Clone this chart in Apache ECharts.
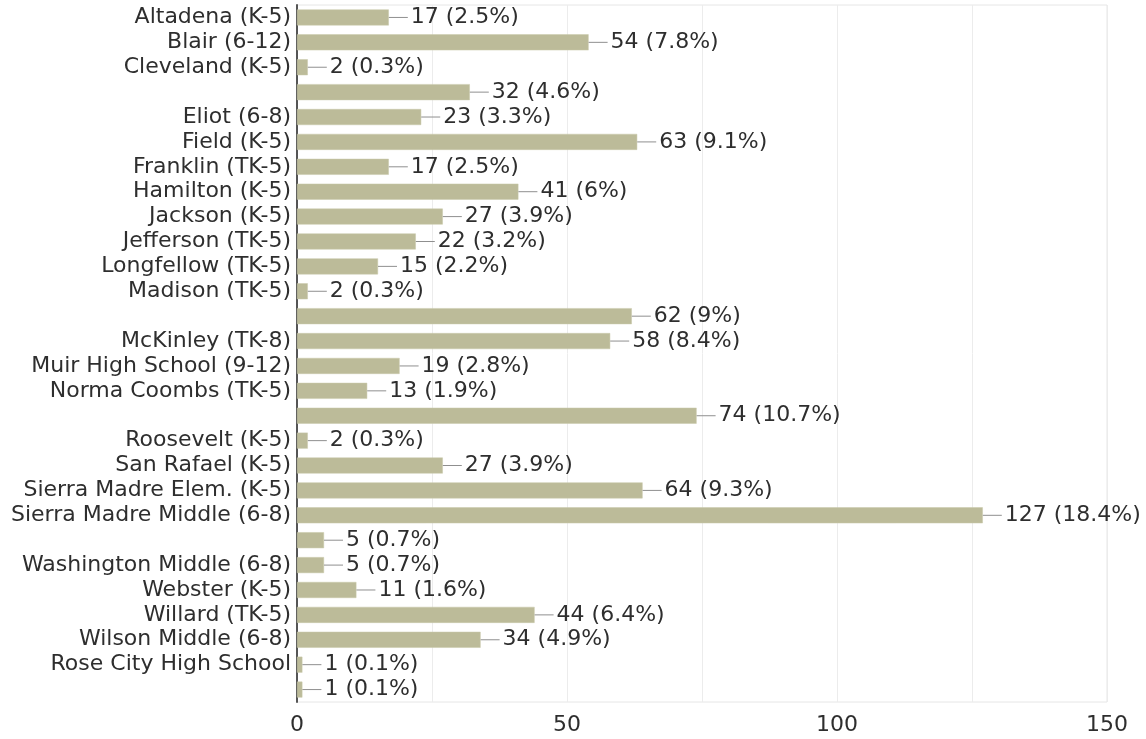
<!DOCTYPE html>
<html>
<head>
<meta charset="utf-8">
<script src="https://cdn.jsdelivr.net/npm/echarts@6/dist/echarts.min.js"></script>
<style>
html,body{margin:0;padding:0;background:#fff;}
#chart{width:1146px;height:739px;}
</style>
</head>
<body>
<div id="chart"></div>
<script>
const categories = [
  'Altadena (K-5)', 'Blair (6-12)', 'Cleveland (K-5)', '', 'Eliot (6-8)',
  'Field (K-5)', 'Franklin (TK-5)', 'Hamilton (K-5)', 'Jackson (K-5)', 'Jefferson (TK-5)',
  'Longfellow (TK-5)', 'Madison (TK-5)', '', 'McKinley (TK-8)', 'Muir High School (9-12)',
  'Norma Coombs (TK-5)', '', 'Roosevelt (K-5)', 'San Rafael (K-5)', 'Sierra Madre Elem. (K-5)',
  'Sierra Madre Middle (6-8)', '', 'Washington Middle (6-8)', 'Webster (K-5)', 'Willard (TK-5)',
  'Wilson Middle (6-8)', 'Rose City High School', ''
];
const counts = [17, 54, 2, 32, 23, 63, 17, 41, 27, 22, 15, 2, 62, 58, 19, 13, 74, 2, 27, 64, 127, 5, 5, 11, 44, 34, 1, 1];
const percents = ['2.5', '7.8', '0.3', '4.6', '3.3', '9.1', '2.5', '6', '3.9', '3.2', '2.2', '0.3', '9', '8.4', '2.8', '1.9', '10.7', '0.3', '3.9', '9.3', '18.4', '0.7', '0.7', '1.6', '6.4', '4.9', '0.1', '0.1'];
const xTicks = [0, 50, 100, 150];

const FONT = 'DejaVu Sans';
const chart = echarts.init(document.getElementById('chart'));
chart.setOption({
  animation: false,
  textStyle: { fontFamily: FONT },
  grid: { left: 297, right: 39, top: 5, bottom: 37, show: true, borderColor: '#e6e6e6', borderWidth: 1 },
  xAxis: {
    type: 'value', min: 0, max: 150, interval: 25,
    axisLine: { show: false }, axisTick: { show: false },
    splitLine: { lineStyle: { color: '#ececec', width: 1 } },
    axisLabel: {
      fontFamily: FONT, fontSize: 22, color: '#2e2e2e', margin: 12,
      formatter: v => xTicks.indexOf(v) >= 0 ? String(v) : ''
    }
  },
  yAxis: {
    type: 'category', inverse: true, data: categories,
    axisLine: { show: true, lineStyle: { color: '#555', width: 2 } },
    axisTick: { show: false },
    axisLabel: { interval: 0, fontFamily: FONT, fontSize: 22, color: '#2e2e2e', margin: 6 }
  },
  series: [{
    type: 'bar',
    data: counts,
    barWidth: 16,
    itemStyle: { color: '#bcbb99', borderColor: '#c9c8ab', borderWidth: 0.5 },
    label: {
      show: true, position: 'right', distance: 0,
      formatter: p => '{l|}{t|' + counts[p.dataIndex] + ' (' + percents[p.dataIndex] + '%)}',
      rich: {
        l: { width: 19, height: 1, backgroundColor: '#8f8f8f' },
        t: { fontFamily: FONT, fontSize: 22, color: '#2e2e2e', padding: [0, 0, 0, 3] }
      }
    }
  }]
});
</script>
</body>
</html>
